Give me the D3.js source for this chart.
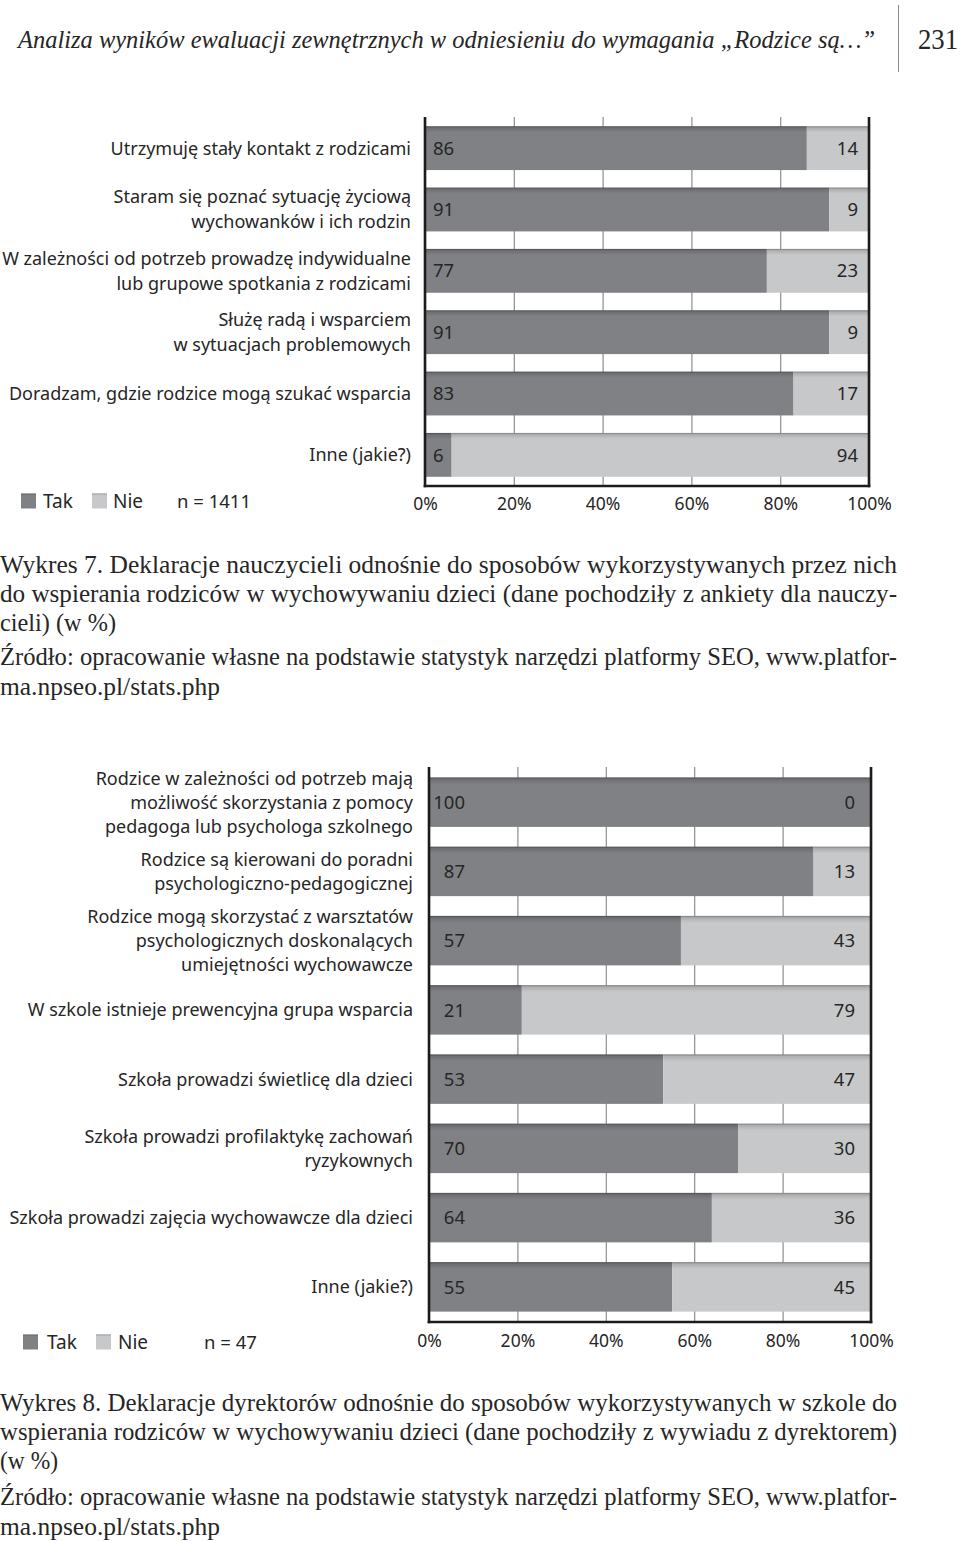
<!DOCTYPE html>
<html><head><meta charset="utf-8">
<script src="https://cdn.jsdelivr.net/npm/d3@7"></script>
<style>body{margin:0;background:#fff}svg{display:block}</style>
</head><body><svg id="page" width="960" height="1541"></svg>
<script>
// ---------- DATA ----------
const headerText = "Analiza wyników ewaluacji zewnętrznych w odniesieniu do wymagania „Rodzice są…”";
const pageNumber = "231";
const seriesNames = ["Tak", "Nie"];
const tickValues = [0, 20, 40, 60, 80, 100];

const categories1 = [
  ["Utrzymuję stały kontakt z rodzicami"],
  ["Staram się poznać sytuację życiową", "wychowanków i ich rodzin"],
  ["W zależności od potrzeb prowadzę indywidualne", "lub grupowe spotkania z rodzicami"],
  ["Służę radą i wsparciem", "w sytuacjach problemowych"],
  ["Doradzam, gdzie rodzice mogą szukać wsparcia"],
  ["Inne (jakie?)"]
];
const tak1 = [86, 91, 77, 91, 83, 6];
const nie1 = [14, 9, 23, 9, 17, 94];
const sample1 = "n = 1411";

const categories2 = [
  ["Rodzice w zależności od potrzeb mają", "możliwość skorzystania z pomocy", "pedagoga lub psychologa szkolnego"],
  ["Rodzice są kierowani do poradni", "psychologiczno-pedagogicznej"],
  ["Rodzice mogą skorzystać z warsztatów", "psychologicznych doskonalących", "umiejętności wychowawcze"],
  ["W szkole istnieje prewencyjna grupa wsparcia"],
  ["Szkoła prowadzi świetlicę dla dzieci"],
  ["Szkoła prowadzi profilaktykę zachowań", "ryzykownych"],
  ["Szkoła prowadzi zajęcia wychowawcze dla dzieci"],
  ["Inne (jakie?)"]
];
const tak2 = [100, 87, 57, 21, 53, 70, 64, 55];
const nie2 = [0, 13, 43, 79, 47, 30, 36, 45];
const sample2 = "n = 47";

const caption1 = [
  "Wykres 7. Deklaracje nauczycieli odnośnie do sposobów wykorzystywanych przez nich",
  "do wspierania rodziców w wychowywaniu dzieci (dane pochodziły z ankiety dla nauczy-",
  "cieli) (w %)"
];
const caption2 = [
  "Wykres 8. Deklaracje dyrektorów odnośnie do sposobów wykorzystywanych w szkole do",
  "wspierania rodziców w wychowywaniu dzieci (dane pochodziły z wywiadu z dyrektorem)",
  "(w %)"
];
const sourceLines = [
  "Źródło: opracowanie własne na podstawie statystyk narzędzi platformy SEO, www.platfor-",
  "ma.npseo.pl/stats.php"
];

// ---------- DRAWING ----------
const svg = d3.select("#page");
const SANS = "'Noto Sans', 'Open Sans', sans-serif";
const SERIF = "'Liberation Serif', 'Times New Roman', Times, serif";
const TEXT = "#262626";
const C_TAK = "#808184", C_NIE = "#c7c8ca";

const defs = svg.append("defs");
function grad(id, edge, mid, base) {
  const g = defs.append("linearGradient").attr("id", id).attr("x1", 0).attr("y1", 0).attr("x2", 0).attr("y2", 1);
  g.append("stop").attr("offset", "0%").attr("stop-color", edge);
  g.append("stop").attr("offset", "4%").attr("stop-color", mid);
  g.append("stop").attr("offset", "14%").attr("stop-color", base);
  g.append("stop").attr("offset", "100%").attr("stop-color", base);
}
grad("gTak", "#4e4f52", "#6e6f72", C_TAK);
grad("gNie", "#7d7e80", "#aeafb1", C_NIE);

// header
svg.append("text").attr("x", 18).attr("y", 48)
  .style("font-family", SERIF).attr("font-style", "italic").attr("font-size", 24.5)
  .attr("fill", TEXT).attr("textLength", 857).attr("lengthAdjust", "spacingAndGlyphs")
  .text(headerText);
svg.append("line").attr("x1", 898.5).attr("x2", 898.5).attr("y1", 5).attr("y2", 72)
  .attr("stroke", "#8a8a8a").attr("stroke-width", 1);
svg.append("text").attr("x", 938).attr("y", 49).attr("text-anchor", "middle")
  .style("font-family", SERIF).attr("font-size", 29).attr("fill", TEXT)
  .attr("textLength", 40).attr("lengthAdjust", "spacingAndGlyphs").text(pageNumber);

function drawChart(cfg) {
  const g = svg.append("g");
  const x = d3.scaleLinear().domain([0, 100]).range([cfg.x0, cfg.x1]);
  const y = d3.scaleBand().domain(d3.range(cfg.tak.length))
    .range([cfg.y0, cfg.y1]).paddingInner(0.285).paddingOuter(0.15);

  // gridlines
  g.append("g").attr("transform", `translate(0,${cfg.y1})`)
    .call(d3.axisBottom(x).tickValues(tickValues).tickSize(-(cfg.y1 - cfg.y0)).tickFormat(""))
    .call(a => a.select(".domain").remove())
    .selectAll("line").attr("stroke", "#8e8e8e").attr("stroke-width", 1.2);

  const data = cfg.tak.map((t, i) => ({ i, t, n: cfg.nie[i] }));
  g.selectAll("rect.tak").data(data).join("rect").attr("class", "tak")
    .attr("x", x(0)).attr("y", d => y(d.i))
    .attr("width", d => x(d.t) - x(0)).attr("height", y.bandwidth())
    .attr("fill", "url(#gTak)");
  g.selectAll("rect.nie").data(data).join("rect").attr("class", "nie")
    .attr("x", d => x(d.t)).attr("y", d => y(d.i))
    .attr("width", d => x(d.t + d.n) - x(d.t)).attr("height", y.bandwidth())
    .attr("fill", "url(#gNie)");

  // frame lines
  const ax = g.append("g").attr("stroke", "#1c1c1c").attr("stroke-width", 2.6);
  ax.append("line").attr("x1", x(0)).attr("x2", x(0)).attr("y1", cfg.y0).attr("y2", cfg.y1 + 1.3);
  ax.append("line").attr("x1", x(100)).attr("x2", x(100)).attr("y1", cfg.y0).attr("y2", cfg.y1 + 1.3);
  ax.append("line").attr("x1", x(0) - 1.3).attr("x2", x(100) + 1.3).attr("y1", cfg.y1).attr("y2", cfg.y1);

  // tick labels
  g.append("g").attr("transform", `translate(0,${cfg.y1})`)
    .call(d3.axisBottom(x).tickValues(tickValues).tickSize(0).tickPadding(cfg.tickPad).tickFormat(d => d + "%"))
    .call(a => a.select(".domain").remove())
    .selectAll("text").style("font-family", SANS).attr("font-size", 17.5).attr("fill", TEXT);

  // value labels
  const mid = d => y(d.i) + y.bandwidth() / 2;
  g.selectAll("text.vt").data(data).join("text").attr("class", "vt")
    .attr("x", x(0) + cfg.takOff).attr("y", mid).attr("dy", "0.36em")
    .attr("text-anchor", cfg.takAnchor)
    .style("font-family", SANS).attr("font-size", cfg.valSize).attr("fill", TEXT)
    .text(d => d.t);
  g.selectAll("text.vn").data(data).join("text").attr("class", "vn")
    .attr("x", x(100) - cfg.nieOff).attr("y", mid).attr("dy", "0.36em")
    .attr("text-anchor", "end")
    .style("font-family", SANS).attr("font-size", cfg.valSize).attr("fill", TEXT)
    .text(d => d.n);

  // category labels
  cfg.cats.forEach((lines, i) => {
    const c = y(i) + y.bandwidth() / 2;
    lines.forEach((ln, k) => {
      g.append("text").attr("x", cfg.labelX).attr("y", c + (k - (lines.length - 1) / 2) * cfg.lh)
        .attr("dy", "0.36em").attr("text-anchor", "end")
        .style("font-family", SANS).attr("font-size", cfg.labSize).attr("fill", TEXT).text(ln);
    });
  });

  // legend
  const lg = g.append("g");
  const items = [
    { name: seriesNames[0], fill: "url(#gTak)", sx: cfg.leg[0], tx: cfg.leg[1] },
    { name: seriesNames[1], fill: "url(#gNie)", sx: cfg.leg[2], tx: cfg.leg[3] }
  ];
  items.forEach(it => {
    lg.append("rect").attr("x", it.sx).attr("y", cfg.legY - 7.5).attr("width", 15).attr("height", 15).attr("fill", it.fill);
    lg.append("text").attr("x", it.tx).attr("y", cfg.legY).attr("dy", "0.36em")
      .style("font-family", SANS).attr("font-size", 19).attr("fill", TEXT).text(it.name);
  });
  lg.append("text").attr("x", cfg.leg[4]).attr("y", cfg.legY).attr("dy", "0.36em")
    .style("font-family", SANS).attr("font-size", 18.5).attr("fill", TEXT).text(cfg.sample);
}

drawChart({
  cats: categories1, tak: tak1, nie: nie1, sample: sample1,
  x0: 425, x1: 869, y0: 117, y1: 486, tickPad: 12,
  takOff: 8, takAnchor: "start", nieOff: 11, valSize: 18.5,
  labelX: 411, lh: 25, labSize: 18,
  legY: 501, leg: [21, 43, 92, 113, 177]
});
drawChart({
  cats: categories2, tak: tak2, nie: nie2, sample: sample2,
  x0: 429, x1: 871, y0: 767, y1: 1322, tickPad: 13,
  takOff: 36, takAnchor: "end", nieOff: 16, valSize: 18.5,
  labelX: 413, lh: 24, labSize: 18,
  legY: 1342, leg: [23, 47, 96, 118, 204]
});

// captions
function para(lines, baselines, widths) {
  lines.forEach((ln, i) => {
    svg.append("text").attr("x", 0).attr("y", baselines[i])
      .style("font-family", SERIF).attr("font-size", 25).attr("fill", TEXT)
      .attr("textLength", widths[i]).attr("lengthAdjust", "spacingAndGlyphs")
      .text(ln);
  });
}
para(caption1, [573, 602, 631], [897, 897, 116]);
para(sourceLines, [665, 695], [897, 220]);
para(caption2, [1411, 1440, 1469], [897, 897, 58]);
para(sourceLines, [1505, 1535], [897, 220]);
</script>
</body></html>
